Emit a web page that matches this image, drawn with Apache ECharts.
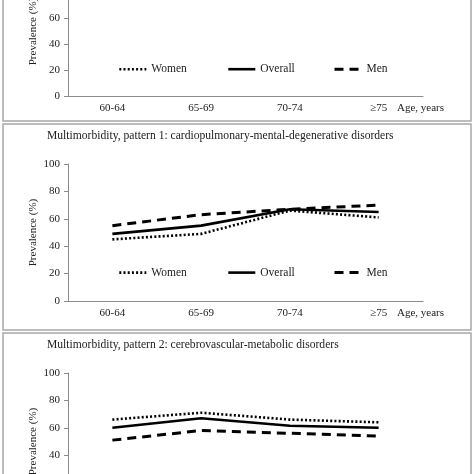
<!DOCTYPE html>
<html>
<head>
<meta charset="utf-8">
<script src="https://cdn.jsdelivr.net/npm/echarts@6/dist/echarts.min.js"></script>
<style>html,body{margin:0;padding:0;background:#fff;overflow:hidden;width:474px;height:474px;position:relative;}#c{position:absolute;left:0;top:-60px;width:474px;height:620px;}</style>
</head>
<body>
<div id="c"></div>
<script>
var categories = ['60-64', '65-69', '70-74', '\u226575'];
var yTicks = [0, 20, 40, 60, 80, 100];
var seriesNames = ['Women', 'Overall', 'Men'];
var panelTitles = ['', 'Multimorbidity, pattern 1: cardiopulmonary-mental-degenerative disorders', 'Multimorbidity, pattern 2: cerebrovascular-metabolic disorders'];
// Panel 1 lines lie outside the visible part of the picture
var p1Women = [];
var p1Overall = [];
var p1Men = [];
var p2Women = [45, 49, 66, 61];
var p2Overall = [49, 55, 67, 65];
var p2Men = [55, 63, 67, 70];
var p3Women = [66, 71, 66, 64];
var p3Overall = [60, 67, 61.5, 60];
var p3Men = [51, 58, 56, 54];

var panelData = [[p1Women, p1Overall, p1Men], [p2Women, p2Overall, p2Men], [p3Women, p3Overall, p3Men]];
var FONT = 'Liberation Serif';
var OFF = 60;
var grids = [
  {left: 68, right: 51, top: -33 + OFF, height: 129},
  {left: 68, right: 51, top: 164 + OFF, height: 137},
  {left: 68, right: 51, top: 373 + OFF, height: 137}
];
var styles = [
  {type: [2, 2.2], width: 2.6},
  {type: 'solid', width: 2.6},
  {type: [9, 6], width: 3}
];
var xAxes = [], yAxes = [], series = [], titles = [], legends = [], graphics = [];
var panelBoxes = [[-20, 121], [124, 330], [333, 520]];
panelBoxes.forEach(function (b) {
  graphics.push({type: 'rect', shape: {x: 3, y: b[0] + OFF, width: 468, height: b[1] - b[0]},
    style: {fill: 'none', stroke: '#a8a8a8', lineWidth: 1.5}, z: 0});
});
var legendX = [118, 227, 333];
for (var p = 0; p < 3; p++) {
  var g = grids[p];
  xAxes.push({type: 'category', gridIndex: p, data: categories, boundaryGap: true,
    axisLine: {lineStyle: {color: '#8c8c8c', width: 1}},
    axisTick: {alignWithLabel: true, length: 4, lineStyle: {color: '#8c8c8c'}},
    axisLabel: {fontFamily: FONT, fontSize: 11, color: '#222', margin: 7},
    splitLine: {show: false}});
  yAxes.push({type: 'value', gridIndex: p, min: 0, max: 100, interval: 20,
    name: 'Prevalence (%)', nameLocation: 'middle', nameGap: 29, nameMoveOverlap: false,
    nameTextStyle: {fontFamily: FONT, fontSize: 11, color: '#222'},
    axisLine: {show: true, lineStyle: {color: '#8c8c8c', width: 1}},
    axisTick: {show: true, length: 4, lineStyle: {color: '#8c8c8c'}},
    axisLabel: {fontFamily: FONT, fontSize: 11, color: '#222', margin: 8},
    splitLine: {show: false}});
  for (var s = 0; s < 3; s++) {
    series.push({type: 'line', name: seriesNames[s], xAxisIndex: p, yAxisIndex: p,
      data: panelData[p][s], symbol: 'none', smooth: false,
      lineStyle: {color: '#000', type: styles[s].type, width: styles[s].width},
      itemStyle: {color: '#000'}});
  }
  var zeroY = g.top + g.height;
  var legY = zeroY - g.height * 0.2;
  for (var s2 = 0; s2 < 3; s2++) {
    legends.push({data: [seriesNames[s2]], left: legendX[s2], top: legY - 7, itemWidth: 27, itemHeight: 14,
      itemGap: 0, textStyle: {fontFamily: FONT, fontSize: 11.5, color: '#222'}, selectedMode: false,
      itemStyle: {color: 'rgba(0,0,0,0)', borderWidth: 0, opacity: 0},
      lineStyle: {color: '#000', type: styles[s2].type, width: styles[s2].width},
      padding: 0});
  }
  if (panelTitles[p]) {
    titles.push({text: panelTitles[p], left: 47, top: g.top - 34,
      textStyle: {fontFamily: FONT, fontSize: 11.6, fontWeight: 'normal', color: '#222'}, padding: 0});
  }
  graphics.push({type: 'text', left: 397, top: zeroY + 7,
    style: {text: 'Age, years', font: '11px "Liberation Serif"', fill: '#222'}, z: 5});
}
var chart = echarts.init(document.getElementById('c'), null, {renderer: 'canvas'});
chart.setOption({
  backgroundColor: '#fff',
  animation: false,
  title: titles,
  legend: legends,
  grid: grids,
  xAxis: xAxes,
  yAxis: yAxes,
  series: series,
  graphic: graphics
});
</script>
</body>
</html>
